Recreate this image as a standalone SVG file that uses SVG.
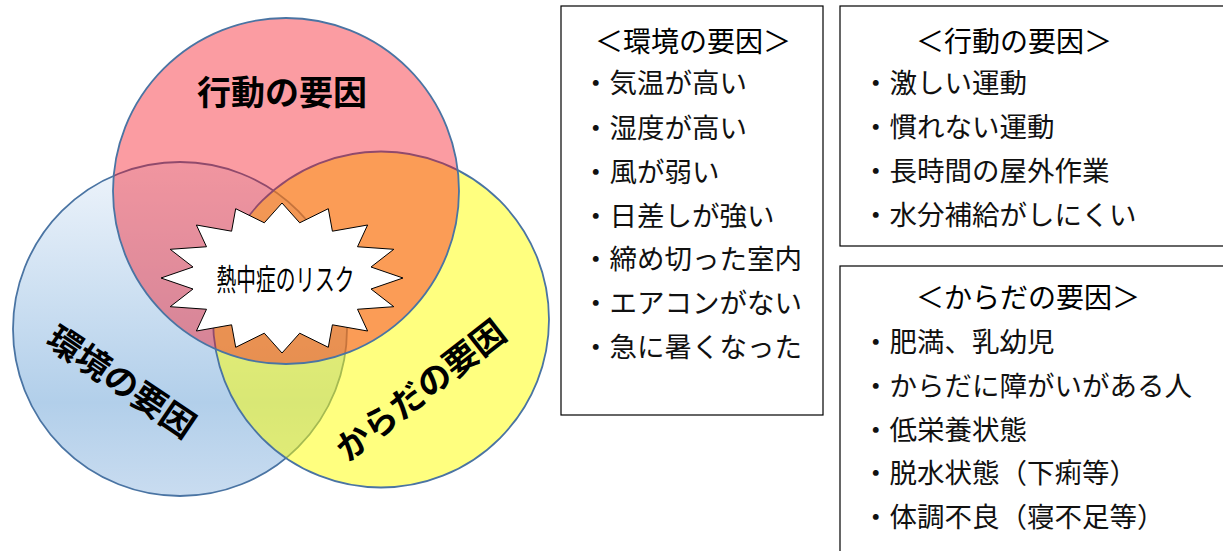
<svg xmlns="http://www.w3.org/2000/svg" width="1223" height="551" viewBox="0 0 1223 551">
<style>
.circ{stroke:#4A74A3;stroke-width:1.8}
.lbl{font-family:"Noto Sans CJK JP","Noto Sans CJK SC",sans-serif;font-weight:bold;font-size:34px;fill:#000;text-anchor:middle}
.box{fill:#fff;stroke:#000;stroke-width:1.2}
.ttl{font-family:"Noto Sans CJK JP","Noto Sans CJK SC",sans-serif;font-size:28px;fill:#000}
.itm{font-family:"Noto Sans CJK JP","Noto Sans CJK SC",sans-serif;font-size:27.5px;fill:#111}
.risk{font-family:"Noto Sans CJK JP","Noto Sans CJK SC",sans-serif;font-size:30px;fill:#000;text-anchor:middle}
</style>
<defs>
<linearGradient id="blueGrad" x1="0" y1="0" x2="0" y2="1">
<stop offset="0" stop-color="#EEF4FB"/>
<stop offset="0.72" stop-color="#B2CFEA"/>
<stop offset="1" stop-color="#C9DCF0"/>
</linearGradient>
</defs>
<rect width="1223" height="551" fill="#fff"/>
<g id="venn">
<g id="env-circle"><circle class="circ" cx="180" cy="329" r="167" fill="url(#blueGrad)"/></g>
<g id="body-circle"><circle class="circ" cx="381" cy="319.5" r="168" fill="#FFFF00" fill-opacity="0.5"/></g>
<g id="action-circle"><circle class="circ" cx="286" cy="191" r="173" fill="rgb(245,15,30)" fill-opacity="0.41"/></g>
<g id="action-label"><text class="lbl" x="282" y="105">行動の要因</text></g>
<g id="env-label" transform="translate(121.5,381.5) rotate(34)"><text class="lbl" x="0" y="12.5">環境の要因</text></g>
<g id="body-label" transform="translate(420.5,390) rotate(-38)"><text class="lbl" x="0" y="12.5">からだの要因</text></g>
<g id="risk">
<polygon points="282,203 299.7,222.8 328.3,208.7 332.4,231.2 367.6,225 357.5,246.75 393.8,249.3 371,267 403,278 371,289 393.8,306.7 357.5,309.25 367.6,331 332.4,324.8 328.3,347.3 299.7,333.2 282,353 264.3,333.2 235.7,347.3 231.6,324.8 196.4,331 206.5,309.25 170.2,306.7 193,289 161,278 193,267 170.2,249.3 206.5,246.75 196.4,225 231.6,231.2 235.7,208.7 264.3,222.8" fill="#fff" stroke="#000" stroke-width="1"/>
<text class="risk" x="285.5" y="290" textLength="138" lengthAdjust="spacingAndGlyphs">熱中症のリスク</text>
</g>
</g>
<g id="connectors"></g>
<g id="env-box">
<rect class="box" x="561" y="6" width="262" height="409"/>
<text class="ttl" x="693" y="52" text-anchor="middle">＜環境の要因＞</text>
<text class="itm" x="582" y="93">・気温が高い</text>
<text class="itm" x="582" y="138">・湿度が高い</text>
<text class="itm" x="582" y="182">・風が弱い</text>
<text class="itm" x="582" y="226">・日差しが強い</text>
<text class="itm" x="582" y="269">・締め切った室内</text>
<text class="itm" x="582" y="313">・エアコンがない</text>
<text class="itm" x="582" y="357">・急に暑くなった</text>
</g>
<g id="action-box">
<rect class="box" x="840" y="6" width="395" height="240"/>
<text class="ttl" x="916" y="52">＜行動の要因＞</text>
<text class="itm" x="862" y="93">・激しい運動</text>
<text class="itm" x="862" y="137">・慣れない運動</text>
<text class="itm" x="862" y="181">・長時間の屋外作業</text>
<text class="itm" x="862" y="225">・水分補給がしにくい</text>
</g>
<g id="body-box">
<rect class="box" x="840" y="266" width="395" height="300"/>
<text class="ttl" x="916" y="308">＜からだの要因＞</text>
<text class="itm" x="862" y="352">・肥満、乳幼児</text>
<text class="itm" x="862" y="396">・からだに障がいがある人</text>
<text class="itm" x="862" y="440">・低栄養状態</text>
<text class="itm" x="862" y="483">・脱水状態（下痢等）</text>
<text class="itm" x="862" y="527">・体調不良（寝不足等）</text>
</g>
</svg>
